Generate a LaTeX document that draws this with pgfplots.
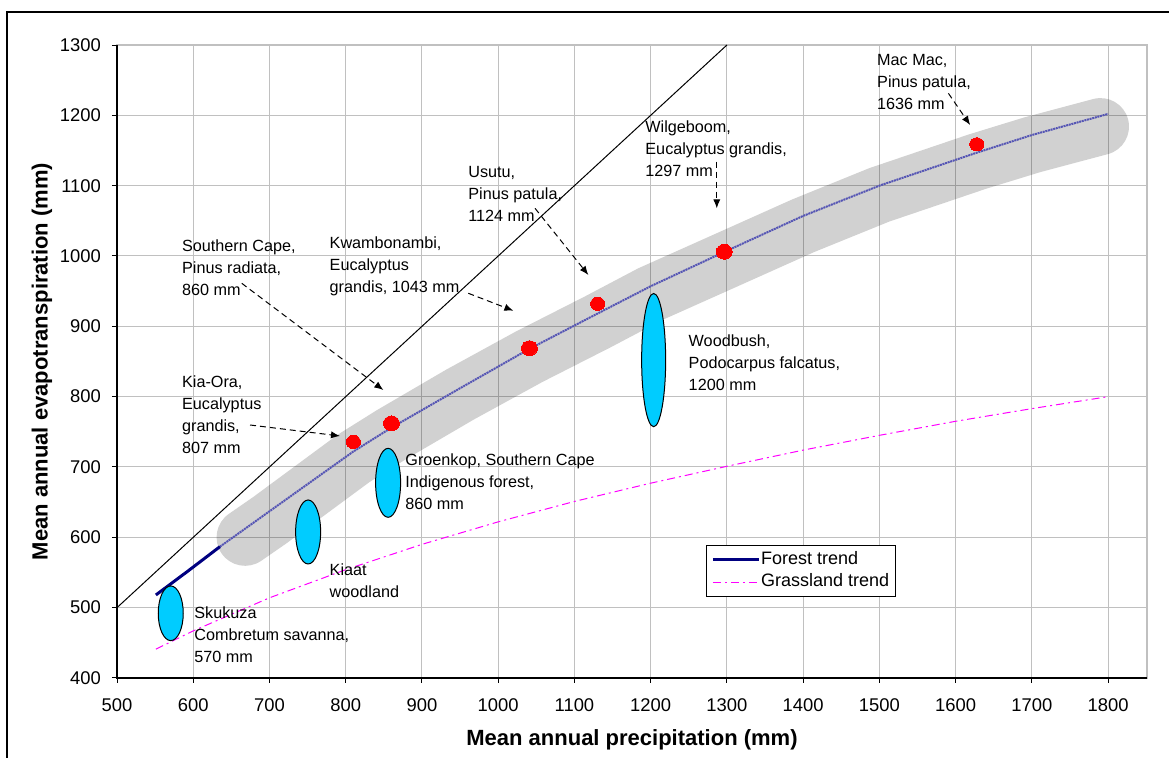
\documentclass[border=0pt]{standalone}
\usepackage{fontspec}
\setmainfont{Liberation Sans}
\usepackage{pgfplots}
\pgfplotsset{compat=1.18}
\usetikzlibrary{arrows.meta}
\definecolor{gridc}{RGB}{192,192,192}
\definecolor{navyc}{RGB}{0,0,128}
\definecolor{trendc}{RGB}{85,85,180}
\definecolor{cyanc}{RGB}{0,204,255}
\definecolor{magc}{RGB}{255,0,255}
\definecolor{redc}{RGB}{255,0,0}
\begin{document}
\begin{tikzpicture}
\useasboundingbox (0,0) rectangle (584.5pt,379pt);
\begin{axis}[
  at={(58.5pt,40pt)}, anchor=south west,
  scale only axis, width=515pt, height=316.5pt,
  xmin=500, xmax=1851, ymin=400, ymax=1300,
  xtick={500,600,...,1800}, ytick={400,500,...,1300},
  grid=major, major grid style={gridc, line width=0.5pt},
  axis line style={gridc, line width=0.6pt},
  xtick pos=bottom, ytick pos=left, tick align=outside,
  major tick length=2.5pt, tick style={black, line width=0.5pt},
  ticklabel style={font=\fontsize{9.2}{11}\selectfont},
  xticklabel style={yshift=-4.5pt},
  yticklabel style={xshift=-2pt},
  /pgf/number format/assume math mode=true,
  /pgf/number format/1000 sep={},
  xlabel={Mean annual precipitation (mm)},
  ylabel={Mean annual evapotranspiration (mm)},
  label style={font=\bfseries\fontsize{11}{13}\selectfont},
  xlabel style={at={(axis description cs:0.5,-0.0975)}, anchor=center},
  ylabel style={at={(axis description cs:-0.0728,0.5)}, anchor=center},
  legend style={at={(rel axis cs:0.5716,0.2101)}, anchor=north west, draw=black, line width=0.5pt,
    font=\fontsize{9}{11}\selectfont, inner xsep=2.6pt, inner ysep=2.3pt,
    nodes={inner sep=0.5pt, text height=6.6pt, text depth=2pt}, row sep=1.75pt},
  legend cell align=left,
  legend image code/.code={\draw[#1] (1.5pt,0pt) -- (24.3pt,0pt);},
  clip=false,
]
% grey band
\addplot[forget plot, draw=black, draw opacity=0.18, line width=28.5pt, line cap=round, line join=round]
coordinates {(668,600) (700,624) (810,712) (860,746) (950,803) (1041,857) (1130,906) (1200,946) (1297,993) (1400,1043) (1500,1087) (1628,1134) (1700,1158) (1790,1184)};
% 1:1 line
\addplot[forget plot, black, line width=0.5pt] coordinates {(500,500) (1300,1300)};
% forest trend dotted part
\addplot[forget plot, trendc, line width=1pt, dash pattern=on 1pt off 0.35pt]
coordinates {(635,586.7) (700,637) (810,722) (860,756) (950,812) (1041,868) (1130,918) (1200,957) (1297,1006) (1400,1057) (1500,1100) (1628,1147) (1700,1172) (1800,1202)};
% forest trend solid part
\addplot[navyc, line width=1.5pt] coordinates {(551,518) (593,552) (635,586.7)};
\addlegendentry{Forest trend}
% grassland trend
\addplot[magc, line width=0.5pt, dash pattern=on 4pt off 2pt on 1pt off 2pt]
coordinates {(551,441) (600,467) (700,514) (800,554) (900,590) (1000,622) (1100,651) (1200,677) (1300,701) (1400,724) (1500,745) (1600,765) (1700,783) (1800,800)};
\addlegendentry{Grassland trend}
% ellipses
\addplot[forget plot, black, only marks, mark=*, mark size=6.25pt, mark options={fill=cyanc, draw=black, line width=0.5pt, yscale=2.187}] coordinates {(570.5,492)};
\addplot[forget plot, black, only marks, mark=*, mark size=6.25pt, mark options={fill=cyanc, draw=black, line width=0.5pt, yscale=2.56}] coordinates {(750.7,607.6)};
\addplot[forget plot, black, only marks, mark=*, mark size=6.25pt, mark options={fill=cyanc, draw=black, line width=0.5pt, yscale=2.76}] coordinates {(855.6,677.5)};
\addplot[forget plot, black, only marks, mark=*, mark size=6pt, mark options={fill=cyanc, draw=black, line width=0.5pt, yscale=5.55}] coordinates {(1203.9,852)};
% red dots
\addplot[forget plot, redc, only marks, mark=*, mark size=3.3pt, mark options={fill=redc, draw=redc, line width=0pt, xscale=1.08}] coordinates {(810,735.7) (1130.5,932) (1627.7,1158.8)};
\addplot[forget plot, redc, only marks, mark=*, mark size=3.7pt, mark options={fill=redc, draw=redc, line width=0pt, xscale=1.08}] coordinates {(860,762) (1041,869) (1296.5,1006)};
% annotations
\begin{scope}[every node/.style={font=\fontsize{8.1}{11}\selectfont, align=left, anchor=north west, inner sep=0pt}]
\node at (axis cs:1496.6,1286.8) {Mac Mac,\\Pinus patula,\\1636 mm};
\node at (axis cs:1192.6,1192.4) {Wilgeboom,\\Eucalyptus grandis,\\1297 mm};
\node at (axis cs:960.4,1128.4) {Usutu,\\Pinus patula,\\1124 mm};
\node at (axis cs:778.5,1027.4) {Kwambonambi,\\Eucalyptus\\grandis, 1043 mm};
\node at (axis cs:584.9,1024.2) {Southern Cape,\\Pinus radiata,\\860 mm};
\node at (axis cs:584.9,829.8) {Kia-Ora,\\Eucalyptus\\grandis,\\807 mm};
\node at (axis cs:877.8,719.5) {Groenkop, Southern Cape\\Indigenous forest,\\860 mm};
\node at (axis cs:1249.4,889.1) {Woodbush,\\Podocarpus falcatus,\\1200 mm};
\node at (axis cs:778.5,563.1) {Kiaat\\woodland};
\node at (axis cs:601,501.4) {Skukuza\\Combretum savanna,\\570 mm};
\end{scope}
\begin{scope}[every path/.style={draw=black, line width=0.5pt, dash pattern=on 3pt off 2pt, -{Latex[length=4.5pt,width=3.6pt]}}]
\draw (axis cs:1590.5,1231.3) -- (axis cs:1619,1186.3);
\draw (axis cs:1286.7,1134.1) -- (axis cs:1286.7,1067.8);
\draw (axis cs:1048.3,1067.8) -- (axis cs:1118.3,973);
\draw (axis cs:960.8,947) -- (axis cs:1019.9,922.2);
\draw (axis cs:663.6,961.2) -- (axis cs:849.3,809.5);
\draw (axis cs:674.5,759.7) -- (axis cs:792.5,744.1);
\end{scope}
% black left and bottom axis lines
\draw[black, line width=0.6pt] (rel axis cs:0,1) -- (rel axis cs:0,0) -- (rel axis cs:1,0);
\end{axis}
\draw[black, line width=1.2pt] (3.5pt,0pt) -- (3.5pt,373pt) -- (584.5pt,373pt);
\end{tikzpicture}
\end{document}
